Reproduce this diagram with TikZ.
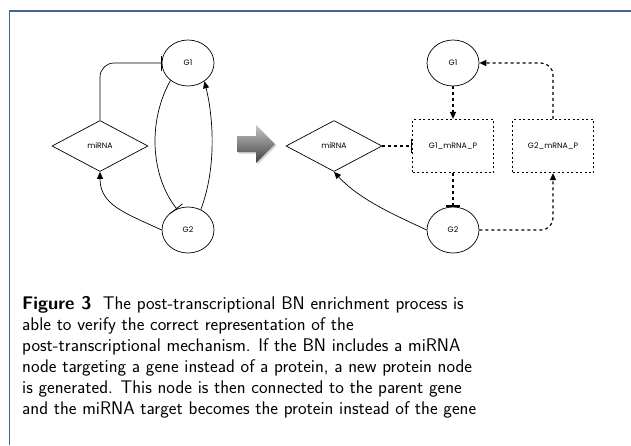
\documentclass[tikz,border=0pt]{standalone}
\usepackage{fontspec}
\newfontfamily\genefont{Poppins}
\usetikzlibrary{shapes.geometric,arrows.meta,shadows}
\definecolor{framecol}{RGB}{70,100,150}
\begin{document}
\begin{tikzpicture}[x=1pt,y=-1pt,
  nodefont/.style={font=\genefont\fontsize{7.8}{9}\selectfont},
  gene/.style={ellipse,draw,line width=0.7pt,minimum width=52pt,minimum height=46pt,inner sep=0pt,nodefont},
  mirna/.style={diamond,draw,line width=0.7pt,minimum width=96pt,minimum height=51pt,inner sep=0pt,nodefont},
  protbox/.style={rectangle,draw,line width=1.2pt,dash pattern=on 2pt off 2.5pt,minimum width=81pt,minimum height=53pt,inner sep=0pt,nodefont},
  solidedge/.style={line width=0.7pt},
  dashedge/.style={line width=1.2pt,dash pattern=on 3pt off 3pt},
  act/.style={-{Triangle[length=7pt,width=6pt]}},
  inh/.style={-{Bar[width=14pt,line width=1.2pt]}},
  thininh/.style={-{Bar[width=15pt,line width=0.8pt]}},
]
\useasboundingbox (0,0) rectangle (631,445);
\fill[white] (0,0) rectangle (631,445);
\draw[framecol,line width=1.3pt] (9.5,445) -- (9.5,11) -- (631,11);

% left network
\node[gene] (G1L) at (188,63) {G1};
\node[gene] (G2L) at (188,230) {G2};
\node[mirna] (mL) at (100,146) {miRNA};
\draw[solidedge,thininh,rounded corners=14pt] (mL.north) |- (G1L.west);
\draw[solidedge,thininh] (G1L.225) .. controls (148,120) and (150,175) .. (G2L.118);
\draw[solidedge,act] (G2L.58) .. controls (216,170) and (214,120) .. (G1L.312);
\draw[solidedge,act] (G2L.west) .. controls (125,213) and (100,205) .. (mL.south);

% big arrow
\shade[top color=gray!45,bottom color=black!75,drop shadow={opacity=0.35,shadow xshift=1.5pt,shadow yshift=-1.5pt}]
  (237,136) -- (256,136) -- (256,125) -- (275,144) -- (256,163) -- (256,152) -- (237,152) -- cycle;

% right network
\node[gene] (G1R) at (453,63) {G1};
\node[gene] (G2R) at (453,230) {G2};
\node[mirna] (mR) at (334,146) {miRNA};
\node[protbox] (B1) at (453,146) {G1\_mRNA\_P};
\node[protbox] (B2) at (553,146) {G2\_mRNA\_P};
\draw[dashedge,inh] (mR.east) -- (B1.west);
\draw[dashedge,act] (G1R.south) -- (B1.north);
\draw[dashedge,inh] (B1.south) -- (G2R.north);
\draw[solidedge,act] (G2R.west) .. controls (395,215) and (360,200) .. (mR.south);
\draw[dashedge,act,rounded corners=12pt] (G2R.east) -| (B2.south);
\draw[dashedge,act,rounded corners=12pt] (B2.north) |- (G1R.east);

% caption
\node[anchor=north west,align=left,inner sep=0pt,font=\sffamily\fontsize{18.3}{21}\selectfont] (cap) at (22,296)
{\textbf{Figure 3}\ \ The post-transcriptional BN enrichment process is\\
able to verify the correct representation of the\\
post-transcriptional mechanism. If the BN includes a miRNA\\
node targeting a gene instead of a protein, a new protein node\\
is generated. This node is then connected to the parent gene\\
and the miRNA target becomes the protein instead of the gene};
\end{tikzpicture}
\end{document}
